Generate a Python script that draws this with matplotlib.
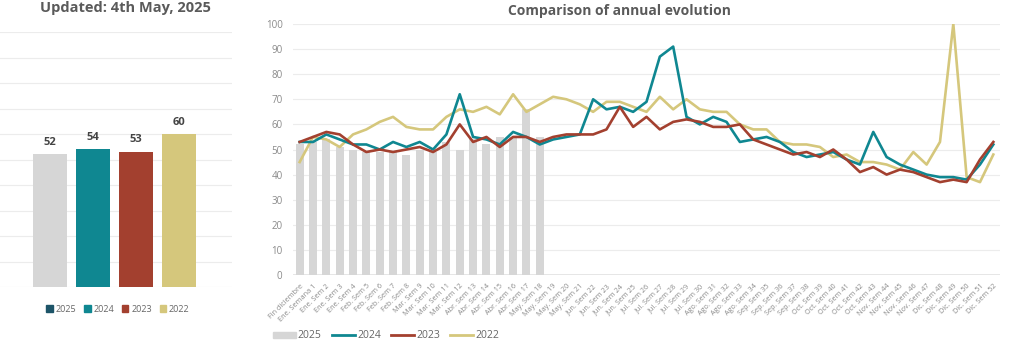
import matplotlib
matplotlib.use("Agg")
import matplotlib.pyplot as plt
from matplotlib.patches import Patch
from matplotlib.lines import Line2D

plt.rcParams['font.family'] = ['Open Sans', 'DejaVu Sans']

# ---- data ----
summary_years = ["2025", "2024", "2023", "2022"]
summary_values = [52, 54, 53, 60]

months = ["Ene."] * 4 + ["Feb."] * 4 + ["Mar."] * 4 + ["Abr."] * 5 + ["May."] * 4 + \
         ["Jun."] * 4 + ["Jul."] * 5 + ["Ago."] * 4 + ["Sep."] * 4 + ["Oct."] * 5 + \
         ["Nov."] * 4 + ["Dic."] * 5
week_labels = ["Fin diciembre", "Ene. Semana 1"] + \
              [f"{months[w - 1]} Sem {w}" for w in range(2, 53)]

values_2025 = [52, 53, 54, 51, 50, 49, 49, 49, 48, 50, 49, 53, 50, 54, 52, 55, 55, 66, 55]
values_2024 = [53, 53, 56, 54, 52, 52, 50, 53, 51, 53, 50, 56, 72, 55, 54, 52, 57, 55, 52,
               54, 55, 56, 70, 66, 67, 65, 69, 87, 91, 63, 60, 63, 61, 53, 54, 55, 53,
               49, 47, 48, 49, 46, 44, 57, 47, 44, 42, 40, 39, 39, 38, 44, 52]
values_2023 = [53, 55, 57, 56, 52, 49, 50, 49, 50, 51, 49, 52, 60, 53, 55, 51, 55, 55, 53,
               55, 56, 56, 56, 58, 67, 59, 63, 58, 61, 62, 61, 59, 59, 60, 54, 52, 50,
               48, 49, 47, 50, 46, 41, 43, 40, 42, 41, 39, 37, 38, 37, 46, 53]
values_2022 = [45, 55, 54, 51, 56, 58, 61, 63, 59, 58, 58, 63, 66, 65, 67, 64, 72, 65, 68,
               71, 70, 68, 65, 69, 69, 67, 65, 71, 66, 70, 66, 65, 65, 60, 58, 58, 53,
               52, 52, 51, 47, 48, 45, 45, 44, 42, 49, 44, 53, 100, 39, 37, 48]

colors = {"2025": "#d6d6d6", "2024": "#0f8791", "2023": "#a3402f", "2022": "#d5c77c"}
legend_2025_dark = "#1d5468"
grid_c = "#ececec"
text_c = "#5a5a5a"
tick_c = "#8a8a8a"

fig = plt.figure(figsize=(10.24, 3.46), dpi=100)

# ---- left panel ----
axL = fig.add_axes([0.0, 0.1705, 0.2266, 0.737])
xs = list(range(len(summary_years)))
axL.bar(xs, summary_values, width=0.77,
        color=[colors[y] for y in summary_years], zorder=3)
for x, v in zip(xs, summary_values):
    axL.text(x, v + 2.5, f"{v}", ha="center", va="bottom", fontsize=8,
             fontweight="bold", color="#444444")
axL.set_ylim(0, 100)
axL.set_xlim(-1.163, 4.233)
axL.set_yticks(range(0, 101, 10))
axL.yaxis.grid(True, color=grid_c, lw=0.8)
axL.set_axisbelow(True)
axL.tick_params(left=False, bottom=False, labelleft=False, labelbottom=False)
for s in axL.spines.values():
    s.set_visible(False)
fig.text(125 / 1024, 1 - 8 / 346, "Updated: 4th May, 2025", ha="center", va="center",
         fontsize=10.5, fontweight="bold", color=text_c)

handlesL = [Patch(color=legend_2025_dark), Patch(color=colors["2024"]),
            Patch(color=colors["2023"]), Patch(color=colors["2022"])]
fig.legend(handlesL, summary_years, loc="center", bbox_to_anchor=(118 / 1024, 1 - 309 / 346),
           ncol=4, frameon=False, fontsize=6.5, handlelength=0.7, handleheight=0.7,
           handletextpad=0.3, columnspacing=0.9, labelcolor="#666666")

# ---- right panel ----
ax = fig.add_axes([293 / 1024, 1 - 275 / 346, 707 / 1024, 251 / 346])
xw = list(range(len(week_labels)))
ax.bar(range(len(values_2025)), values_2025, width=0.6, color=colors["2025"], zorder=2)
ax.plot(xw, values_2024, color=colors["2024"], lw=1.9, zorder=4)
ax.plot(xw, values_2023, color=colors["2023"], lw=1.9, zorder=5)
ax.plot(xw, values_2022, color=colors["2022"], lw=1.9, zorder=3)
ax.set_xlim(-0.5, len(week_labels) - 0.5)
ax.set_ylim(0, 100)
ax.set_yticks(range(0, 101, 10))
ax.yaxis.grid(True, color=grid_c, lw=0.8)
ax.set_axisbelow(True)
for s in ax.spines.values():
    s.set_visible(False)
ax.axhline(0, color="#e2e2e2", lw=1.2, zorder=1)
ax.tick_params(left=False, bottom=False, labelsize=7, colors=tick_c, pad=4)
ax.set_xticks(xw)
ax.set_xticklabels(week_labels, rotation=45, ha="right", rotation_mode="anchor",
                   fontsize=5.2, color=tick_c)
ax.tick_params(axis="x", pad=2)
fig.text(619 / 1024, 1 - 11 / 346, "Comparison of annual evolution", ha="center",
         va="center", fontsize=10, fontweight="bold", color=text_c)

handlesR = [Patch(color=colors["2025"]),
            Line2D([], [], color=colors["2024"], lw=2),
            Line2D([], [], color=colors["2023"], lw=2),
            Line2D([], [], color=colors["2022"], lw=2)]
fig.legend(handlesR, summary_years, loc="center", bbox_to_anchor=(386 / 1024, 1 - 336 / 346),
           ncol=4, frameon=False, fontsize=7.5, handlelength=2.2, handleheight=0.6,
           handletextpad=0.2, columnspacing=1.0, labelcolor="#666666")

fig.savefig("out.png", dpi=100, facecolor="white")
